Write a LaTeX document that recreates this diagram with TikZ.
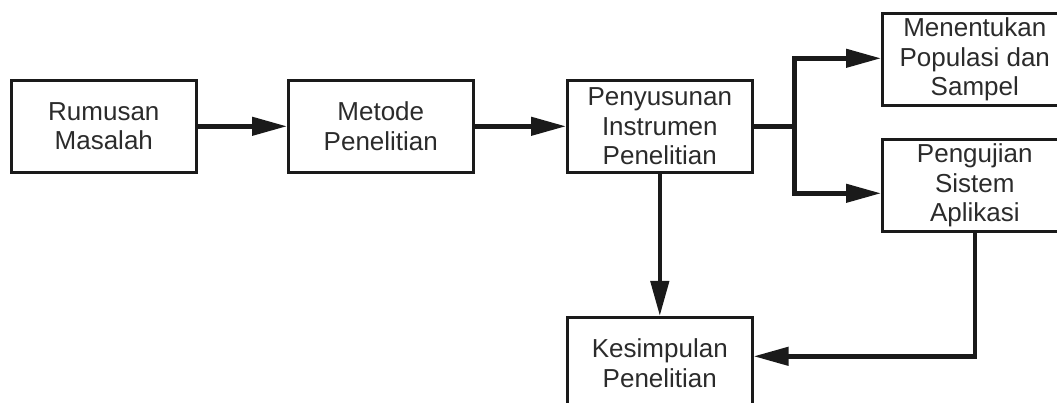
\documentclass[tikz,border=0pt]{standalone}
\usepackage{fontspec}
\setmainfont{Liberation Sans}
\usetikzlibrary{arrows.meta}
\definecolor{txt}{HTML}{2B2B2B}
\definecolor{ln}{HTML}{1A1A1A}
\tikzset{
  box/.style={draw=ln, line width=2.6pt, anchor=north west, minimum width=185pt, minimum height=92pt,
    inner sep=0pt, align=center, text=txt, font=\fontsize{26}{29.5}\selectfont},
  conn/.style={draw=ln, line width=4.5pt, line join=miter},
  arr/.style={conn, -{Triangle[length=35pt,width=18pt]}}
}
\begin{document}
\begin{tikzpicture}[x=1pt,y=-1pt]
\useasboundingbox (0,0) rectangle (1057,403);
\clip (0,0) rectangle (1057,403);
\node[box] (r) at (10,79) {Rumusan\\Masalah};
\node[box] (m) at (287,79) {Metode\\Penelitian};
\node[box] (p) at (566,79) {Penyusunan\\Instrumen\\Penelitian};
\node[box] (mt) at (881,12) {Menentukan\\Populasi dan\\Sampel};
\node[box] (pg) at (881,138) {Pengujian\\Sistem\\Aplikasi};
\node[box] (k) at (566,316) {Kesimpulan\\Penelitian};
\draw[arr] (r.east) -- (m.west);
\draw[arr] (m.east) -- (p.west);
\draw[conn] (p.east) -- ++(41,0) coordinate (br);
\draw[arr] (br) |- ([yshift=1pt]mt.west);
\draw[arr] (br) |- ([yshift=-8pt]pg.west);
\draw[arr] (p.south) -- (k.north);
\draw[arr] (pg.south) |- ([yshift=7pt]k.east);
\end{tikzpicture}
\end{document}
